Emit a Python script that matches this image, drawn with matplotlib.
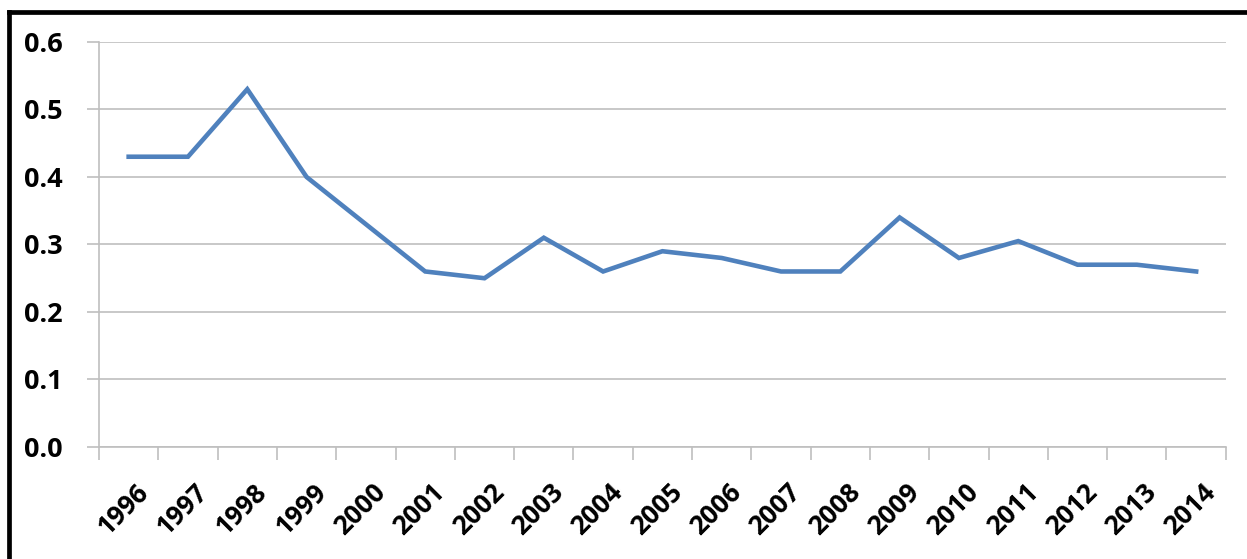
import matplotlib
matplotlib.use("Agg")
import matplotlib.pyplot as plt
import matplotlib.transforms as mtransforms
import numpy as np
from matplotlib.lines import Line2D

years = ["1996", "1997", "1998", "1999", "2000", "2001", "2002", "2003", "2004", "2005",
         "2006", "2007", "2008", "2009", "2010", "2011", "2012", "2013", "2014"]
values = [0.43, 0.43, 0.53, 0.40, 0.33, 0.26, 0.25, 0.31, 0.26, 0.29,
          0.28, 0.26, 0.26, 0.34, 0.28, 0.305, 0.27, 0.27, 0.26]
y_ticks = [0.0, 0.1, 0.2, 0.3, 0.4, 0.5, 0.6]

GRID = "#BFBFBF"
FONT = "Open Sans"

fig = plt.figure(figsize=(12.47, 5.59), dpi=100)
ax = fig.add_axes([0.0794, 0.2004, 0.9036, 0.7245])

x = np.arange(len(years))
ax.plot(x, values, color="#4F81BD", linewidth=3.3, solid_joinstyle="miter")

ax.set_xlim(-0.5, len(years) - 0.5)
ax.set_ylim(0, 0.6)
ax.set_yticks(y_ticks)
ax.set_yticklabels([f"{v:.1f}" for v in y_ticks], fontsize=19.5, fontweight="bold",
                   family=FONT)
ax.yaxis.grid(True, color=GRID, linewidth=1.2)
ax.set_axisbelow(True)

# category labels at centers, tick marks at category boundaries
ax.set_xticks(x)
ax.set_xticklabels(years, rotation=45, ha="right", va="top", rotation_mode="anchor",
                   fontsize=19, fontweight="bold", family=FONT)
ax.tick_params(axis="x", which="major", length=0, pad=23)
shift = mtransforms.ScaledTranslation(6 / 100, 0, fig.dpi_scale_trans)
for lab in ax.get_xticklabels():
    lab.set_transform(lab.get_transform() + shift)
ax.set_xticks(np.arange(-0.5, len(years)), minor=True)
ax.tick_params(axis="x", which="minor", length=9, color=GRID, width=1.2)
ax.tick_params(axis="y", length=9, color=GRID, width=1.2, pad=17)

for side in ["top", "right"]:
    ax.spines[side].set_visible(False)
for side in ["left", "bottom"]:
    ax.spines[side].set_color(GRID)
    ax.spines[side].set_linewidth(1.2)

# thick frame on the left and top of the picture
fig.add_artist(Line2D([0.0076, 0.0076], [0.0, 0.9794], color="black", linewidth=3.4,
                      solid_capstyle="projecting", transform=fig.transFigure))
fig.add_artist(Line2D([0.0076, 1.0], [0.9794, 0.9794], color="black", linewidth=3.4,
                      solid_capstyle="projecting", transform=fig.transFigure))

fig.savefig("out.png", dpi=100)
